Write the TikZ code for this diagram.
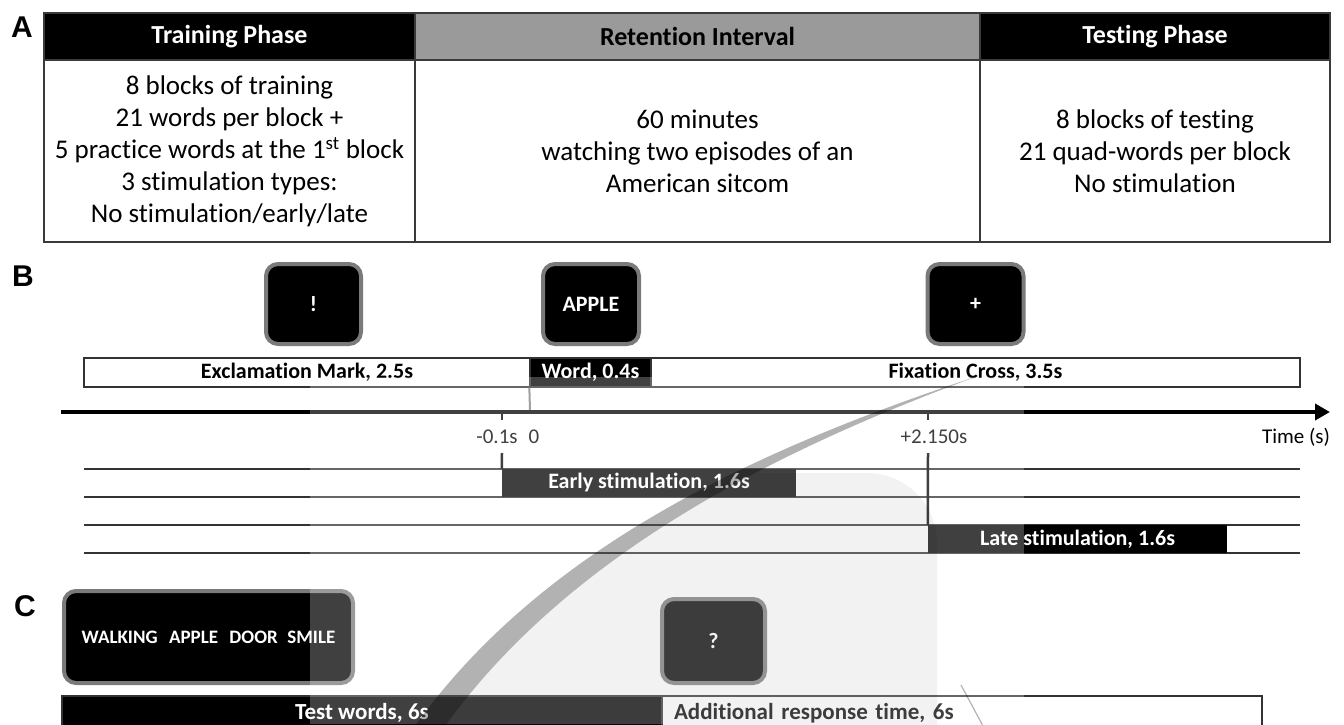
\documentclass[tikz,border=0pt]{standalone}
\usepackage{fontspec}
\setmainfont{Carlito}[Ligatures={NoCommon}]
\newfontfamily\letterfont{Liberation Sans}
\usetikzlibrary{arrows.meta}
\definecolor{hdrgray}{HTML}{9A9A9A}
\definecolor{scrgray}{HTML}{7A7A7A}
\definecolor{rulegray}{HTML}{3A3A3A}
\definecolor{linegray}{HTML}{333333}
\begin{document}
\begin{tikzpicture}[x=1pt,y=-1pt,
  panel/.style={font=\letterfont\bfseries\fontsize{30}{30}\selectfont, inner sep=0pt},
  hdrcell/.style={draw=rulegray, line width=2pt, font=\bfseries\fontsize{26}{30}\selectfont, inner sep=0pt, minimum height=47pt},
  bodycell/.style={draw=rulegray, line width=2pt, font=\fontsize{27}{32}\selectfont, align=center, inner sep=0pt, minimum height=182pt},
  screen/.style={draw=scrgray, line width=4pt, fill=black, rounded corners=12pt, text=white, font=\bfseries\fontsize{22}{24}\selectfont, inner sep=0pt},
  barseg/.style={draw=linegray, line width=1.3pt, font=\bfseries\fontsize{22}{24}\selectfont, inner sep=0pt, minimum height=29pt},
  cbar/.style={barseg, font=\bfseries\fontsize{23}{26}\selectfont, minimum height=34pt},
  ticklab/.style={font=\fontsize{21}{24}\selectfont, inner sep=0pt},
  stimbox/.style={fill=black, text=white, font=\bfseries\fontsize{22}{24}\selectfont, inner sep=0pt, minimum height=28pt},
  stimline/.style={draw=linegray, line width=1.3pt},
  conn/.style={draw=black, line width=2.5pt},
  axisline/.style={draw=black, line width=4pt, -{Triangle[length=15pt,width=16pt]}}
]
\useasboundingbox (0,0) rectangle (1344,724);
\fill[white] (0,0) rectangle (1344,724);
\clip (0,0) rectangle (1344,724);

% ---------------- Panel A ----------------
\node[panel] (la) at (22,27.5) {A};
\node[hdrcell, fill=black, text=white, minimum width=371pt] (h1) at (229.5,36.5) {Training Phase};
\node[hdrcell, fill=hdrgray, text=black, minimum width=565pt] (h2) at (697.5,36.5) {Retention Interval};
\node[hdrcell, fill=black, text=white, minimum width=350pt] (h3) at (1155,36.5) {Testing Phase};
\node[bodycell, minimum width=371pt] (c1) at (229.5,151) {8 blocks of training\\21 words per block +\\5 practice words at the 1\textsuperscript{st} block\\3 stimulation types:\\No stimulation/early/late};
\node[bodycell, minimum width=565pt] (c2) at (697.5,151) {60 minutes\\watching two episodes of an\\American sitcom};
\node[bodycell, minimum width=350pt] (c3) at (1155,151) {8 blocks of testing\\21 quad-words per block\\No stimulation};

% ---------------- Panel B ----------------
\node[panel] (lb) at (23,276.5) {B};
\node[screen, minimum width=95pt, minimum height=80pt] (s1) at (313.5,304) {!};
\node[screen, minimum width=96pt, minimum height=80pt] (s2) at (591,304) {APPLE};
\node[screen, minimum width=96pt, minimum height=80pt] (s3) at (975.5,304) {+};

\node[barseg, fill=white, minimum width=446pt] (exc) at (307,372.5) {Exclamation Mark, 2.5s};
\node[barseg, fill=black, text=white, minimum width=121pt] (word) at (590.5,372.5) {Word, 0.4s};
\node[barseg, fill=white, minimum width=649pt] (fix) at (975.5,372.5) {Fixation Cross, 3.5s};

\coordinate (ax0) at (61,412);
\coordinate (ax1) at (1330,412);
\coordinate (wb) at (530,411);
\draw[draw=gray, line width=2pt] (word.south west) -- (wb);
\draw[axisline] (ax0) -- (ax1);

\coordinate (tk1) at (502,412);
\coordinate (tk1e) at (502,420);
\coordinate (tk2) at (928,412);
\coordinate (tk2e) at (928,420);
\draw[line width=2.5pt] (tk1) -- (tk1e);
\draw[line width=2.5pt] (tk2) -- (tk2e);

\node[ticklab] (lm01) at (497,437) {-0.1s};
\node[ticklab] (l0) at (534,437) {0};
\node[ticklab] (l215) at (934,437) {+2.150s};
\node[ticklab] (ltime) at (1296,437) {Time (s)};

\draw[stimline] (84,469) -- (1300,469);
\draw[stimline] (84,497) -- (1300,497);
\draw[stimline] (84,525) -- (1300,525);
\draw[stimline] (84,553) -- (1300,553);

\node[stimbox, minimum width=294pt] (early) at (649,483) {Early stimulation, 1.6s};
\node[stimbox, minimum width=299pt] (late) at (1077.5,539) {Late stimulation, 1.6s};
\coordinate (ea) at (502,453);
\coordinate (lt) at (928,453);
\draw[conn] (ea) -- (early.north west);
\draw[conn] (lt) -- (late.north west);

% ---------------- Panel C ----------------
\node[panel] (lc) at (25,606) {C};
\node[screen, font=\bfseries\fontsize{19}{22}\selectfont, minimum width=289pt, minimum height=92pt] (s4) at (208.5,637) {WALKING\hspace{0.6em}APPLE\hspace{0.6em}DOOR\hspace{0.5em}SMILE};
\node[screen, minimum width=103pt, minimum height=84pt] (s5) at (713.5,641) {?};
\node[cbar, fill=black, text=white, minimum width=600pt] (test) at (362,713) {Test words, 6s};
\node[cbar, fill=white, text width=576pt, inner xsep=12pt, align=left] (addt) at (962,713) {Additional response time, 6s};

% ---------------- overlay artefacts ----------------
\fill[white, fill opacity=0.25] (310,377) rectangle (1024,724);
\begin{scope}
\clip (978,376) .. controls (785,447) and (572,550) .. (445,726) -- (1344,726) -- (1344,300) -- cycle;
\fill[black, fill opacity=0.05, rounded corners=70pt] (300,473) rectangle (937,800);
\end{scope}
\fill[black, fill opacity=0.3] (978,376) .. controls (775,443) and (548,540) .. (415,726) -- (445,726) .. controls (572,550) and (785,447) .. (978,376) -- cycle;
\draw[black, draw opacity=0.3, line width=1.2pt] (961,685) -- (983,726);
\end{tikzpicture}
\end{document}
